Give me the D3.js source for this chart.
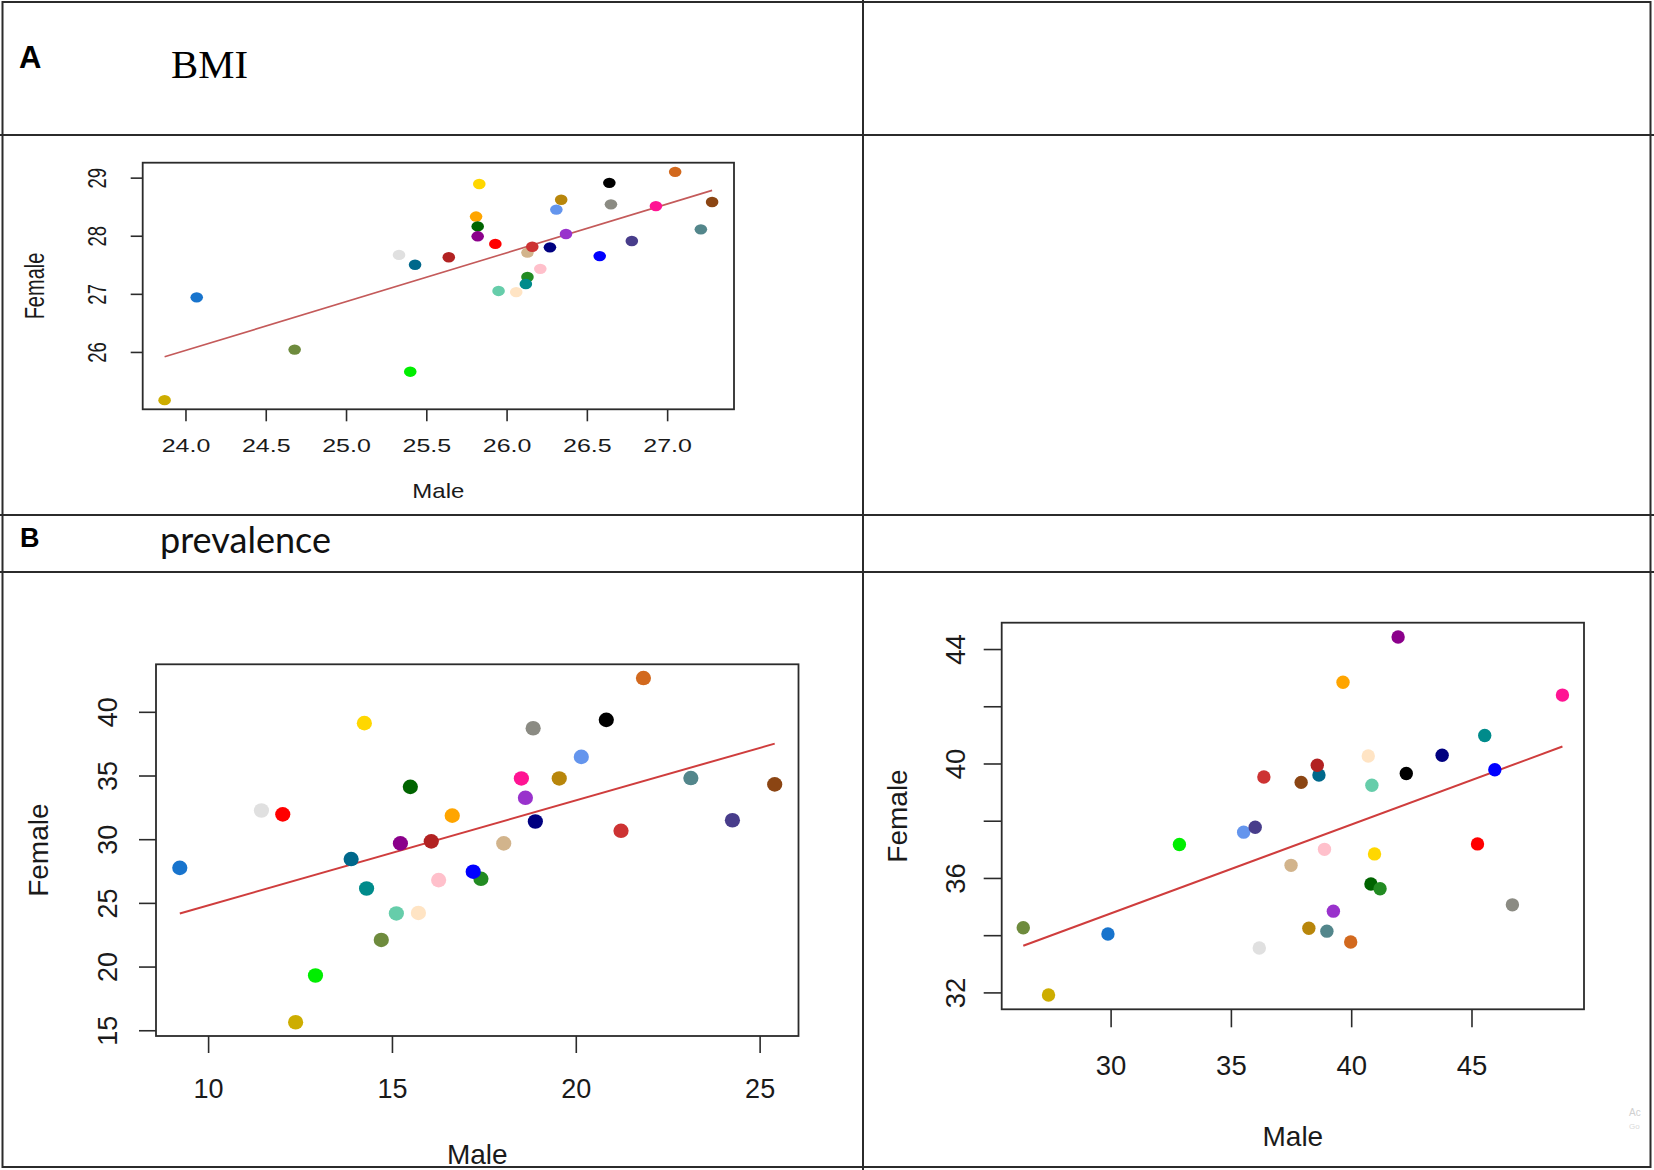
<!DOCTYPE html>
<html><head><meta charset="utf-8">
<script src="https://cdn.jsdelivr.net/npm/d3@7"></script>
<style>body{margin:0;background:#fff}svg{display:block}</style>
</head><body>
<svg id="c" width="1654" height="1170"></svg>
<script>
// ---- data (one colour per country, same order in every panel) ----
const countryColors = ["#cdad00","#1874cd","#6e8b3d","#00ee00","#e0e0e0","#00688b","#b22222","#ffd700",
  "#ffa500","#006400","#8b008b","#ff0000","#66cdaa","#ffe4c4","#d2b48c","#cd3333","#228b22","#008b8b",
  "#ffc0cb","#000080","#6495ed","#b8860b","#9932cc","#0000ff","#000000","#8b8b83","#483d8b","#ff1493",
  "#d2691e","#53868b","#8b4513"];

const bmiMale   = [23.87,24.07,24.68,25.40,25.33,25.43,25.64,25.83,25.81,25.82,25.82,25.93,25.95,26.06,26.13,26.16,
  26.13,26.12,26.21,26.27,26.31,26.34,26.37,26.58,26.64,26.65,26.78,26.93,27.05,27.21,27.28];
const bmiFemale = [25.17,26.94,26.04,25.66,27.67,27.50,27.63,28.89,28.33,28.16,27.99,27.86,27.05,27.03,27.71,27.81,
  27.29,27.17,27.43,27.80,28.45,28.62,28.03,27.65,28.91,28.54,27.91,28.51,29.10,28.11,28.58];

const prev1Male   = [12.38,9.23,14.71,12.92,11.45,13.89,16.07,14.25,16.64,15.50,15.23,12.03,15.12,15.72,18.04,21.23,
  17.42,14.31,16.27,18.90,20.15,19.55,18.63,17.21,20.83,18.84,24.26,18.52,21.84,23.13,25.41];
const prev1Female = [15.63,27.75,22.09,19.30,32.25,28.44,29.83,39.11,31.85,34.11,29.67,31.95,24.17,24.21,29.67,30.66,
  26.89,26.13,26.79,31.39,36.46,34.77,33.25,27.45,39.37,38.71,31.49,34.77,42.65,34.80,34.30];

const prev2Male   = [27.42,29.89,26.37,32.86,36.18,38.66,38.59,40.97,39.66,40.82,41.95,45.25,40.86,40.71,37.50,36.37,
  41.20,45.55,38.89,43.78,35.53,38.24,39.26,45.97,42.29,46.70,36.01,48.78,39.98,38.99,37.92];
const prev2Female = [31.91,34.04,34.26,37.17,33.55,39.60,39.94,36.84,42.84,35.79,44.42,37.19,39.24,40.26,36.44,39.53,
  35.62,40.98,37.00,40.29,37.60,34.24,34.84,39.78,39.65,35.06,37.77,42.39,33.76,34.14,39.34];

const bmiXTicks = [24.0,24.5,25.0,25.5,26.0,26.5,27.0];
const bmiYTicks = [26,27,28,29];
const prev1XTicks = [10,15,20,25];
const prev1YTicks = [15,20,25,30,35,40];
const prev2XTicks = [30,35,40,45];
const prev2YTicks = [32,34,36,38,40,42,44];
const prev2YLabels = [32,36,40,44];

// ---- drawing ----
const svg = d3.select("#c");
const ink = "#2b2b2b";

// frame / table lines
const frame = svg.append("g").attr("stroke", ink).attr("stroke-width", 2).attr("fill", "none");
frame.append("rect").attr("x", 2.5).attr("y", 2).attr("width", 1648).attr("height", 1165);
[[0,135,1654,135],[0,515,1654,515],[0,572,1654,572],[863,0,863,1170]].forEach(l =>
  frame.append("line").attr("x1", l[0]).attr("y1", l[1]).attr("x2", l[2]).attr("y2", l[3]));

// headings
svg.append("text").attr("x", 19).attr("y", 68).attr("font-family", "Liberation Sans, Arial, sans-serif")
  .attr("font-weight", "bold").attr("font-size", 31).text("A");
svg.append("text").attr("x", 171).attr("y", 78).attr("font-family", "Liberation Serif, Times New Roman, serif")
  .attr("font-size", 40).attr("textLength", 77).attr("lengthAdjust", "spacingAndGlyphs").text("BMI");
svg.append("text").attr("x", 20).attr("y", 547).attr("font-family", "Liberation Sans, Arial, sans-serif")
  .attr("font-weight", "bold").attr("font-size", 27).text("B");
svg.append("text").attr("x", 160).attr("y", 553).attr("font-family", "Lato, 'Open Sans', sans-serif")
  .attr("font-size", 37).attr("fill", "#111").attr("textLength", 171).attr("lengthAdjust", "spacingAndGlyphs").text("prevalence");

// faint watermark remnants at bottom-right
svg.append("text").attr("x", 1629).attr("y", 1116).attr("font-family", "Liberation Sans, sans-serif")
  .attr("font-size", 10).attr("fill", "#d0d0d0").text("Ac");
svg.append("text").attr("x", 1629).attr("y", 1129).attr("font-family", "Liberation Sans, sans-serif")
  .attr("font-size", 8).attr("fill", "#dadada").text("Go");

function expand(ext) { const d = (ext[1] - ext[0]) * 0.04; return [ext[0] - d, ext[1] + d]; }

function panel(c) {
  const [l, t, r, b] = c.box;
  const x = d3.scaleLinear().domain(expand(d3.extent(c.xs))).range([l, r]);
  const y = d3.scaleLinear().domain(expand(d3.extent(c.ys))).range([b, t]);
  const g = svg.append("g");
  const font = "Liberation Sans, Arial, Helvetica, sans-serif";

  // x axis
  const xa = g.append("g").attr("transform", `translate(0,${b})`)
    .call(d3.axisBottom(x).tickValues(c.xTicks).tickSize(c.tickLen).tickFormat(c.xFmt));
  xa.select(".domain").remove();
  xa.selectAll("line").attr("stroke", ink).attr("stroke-width", 1.6);
  xa.selectAll("text").attr("y", 0).attr("dy", 0).attr("fill", "#1a1a1a")
    .attr("font-family", font).attr("font-size", c.fs)
    .attr("transform", `translate(0,${c.xLab}) scale(${c.sx},1)`);

  // y axis
  const ya = g.append("g").attr("transform", `translate(${l},0)`)
    .call(d3.axisLeft(y).tickValues(c.yTicks).tickSize(c.tickLen)
      .tickFormat(d => (c.yShow ? (c.yShow.includes(d) ? String(d) : "") : String(d))));
  ya.select(".domain").remove();
  ya.selectAll("line").attr("stroke", ink).attr("stroke-width", 1.6);
  ya.selectAll("text").attr("x", 0).attr("y", 0).attr("dy", 0).attr("text-anchor", "middle")
    .attr("fill", "#1a1a1a").attr("font-family", font).attr("font-size", c.fs)
    .attr("transform", `translate(${-c.yLab},0) scale(${c.sx},1) rotate(-90)`);

  // axis titles
  g.append("text").attr("text-anchor", "middle").attr("font-family", font).attr("font-size", c.ts).attr("fill", "#1a1a1a")
    .attr("transform", `translate(${(l + r) / 2},${b + c.xTitle}) scale(${c.sxT},1)`).text("Male");
  g.append("text").attr("text-anchor", "middle").attr("font-family", font).attr("font-size", c.ts).attr("fill", "#1a1a1a")
    .attr("transform", `translate(${l - c.yTitle},${(t + b) / 2}) scale(${c.sxF},1) rotate(-90)`).text("Female");

  // least-squares fit line over the data range
  const mx = d3.mean(c.xs), my = d3.mean(c.ys);
  const slope = d3.sum(c.xs, (v, i) => (v - mx) * (c.ys[i] - my)) / d3.sum(c.xs, v => (v - mx) ** 2);
  const icpt = my - slope * mx;
  const [x0, x1] = d3.extent(c.xs);
  g.append("line").attr("x1", x(x0)).attr("y1", y(icpt + slope * x0)).attr("x2", x(x1)).attr("y2", y(icpt + slope * x1))
    .attr("stroke", c.lineColor).attr("stroke-width", c.lw);

  // points
  g.append("g").selectAll("ellipse").data(c.xs.map((v, i) => ({ mx: v, fy: c.ys[i], col: countryColors[i] })))
    .join("ellipse").attr("cx", d => x(d.mx)).attr("cy", d => y(d.fy)).attr("rx", c.rx).attr("ry", c.ry)
    .attr("fill", d => d.col);

  // box
  g.append("rect").attr("x", l).attr("y", t).attr("width", r - l).attr("height", b - t)
    .attr("fill", "none").attr("stroke", ink).attr("stroke-width", 1.8);
}

panel({ box: [142.7, 162.7, 734, 409.3], xs: bmiMale, ys: bmiFemale, xTicks: bmiXTicks, yTicks: bmiYTicks,
  xFmt: d3.format(".1f"), fs: 18.5, sx: 1.35, tickLen: 12, xLab: 42.4, yLab: 36.7,
  ts: 20, sxT: 1.2, sxF: 1.4, xTitle: 89, yTitle: 98.7, lineColor: "#c45a5a", lw: 1.6, rx: 6.3, ry: 5.2 });

panel({ box: [156, 664.3, 798.5, 1036], xs: prev1Male, ys: prev1Female, xTicks: prev1XTicks, yTicks: prev1YTicks,
  xFmt: d3.format("d"), fs: 27, sx: 1, tickLen: 17, xLab: 62, yLab: 39,
  ts: 28, sxT: 1, sxF: 1, xTitle: 128, yTitle: 108, lineColor: "#cf3d3d", lw: 2, rx: 7.6, ry: 7.3 });

panel({ box: [1001.7, 622.7, 1584, 1009.3], xs: prev2Male, ys: prev2Female, xTicks: prev2XTicks, yTicks: prev2YTicks,
  yShow: prev2YLabels, xFmt: d3.format("d"), fs: 27.5, sx: 1, tickLen: 18, xLab: 66, yLab: 36.7,
  ts: 28, sxT: 1, sxF: 1, xTitle: 137, yTitle: 95, lineColor: "#cf3d3d", lw: 2, rx: 6.7, ry: 6.7 });
</script>
</body></html>
